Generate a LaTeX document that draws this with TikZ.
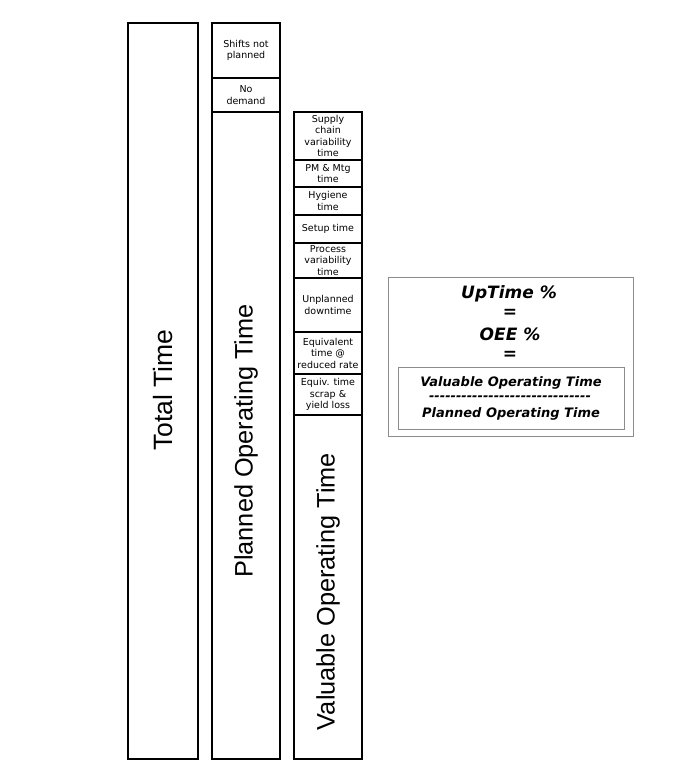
\documentclass[tikz,border=0pt]{standalone}
\usepackage{fontspec}
\setmainfont{DejaVu Sans}
\newfontfamily\arialf{Liberation Sans}
\newcommand{\hy}{\char"2D\relax}
\begin{document}
\begin{tikzpicture}[x=1pt,y=-1pt,
  bx/.style={draw=black, line width=1.2pt, inner sep=0pt, outer sep=0pt},
  gbx/.style={draw=black!45, line width=1pt, inner sep=0pt, outer sep=0pt},
  small/.style={font=\fontsize{9.5}{11.5}\selectfont, align=center, inner sep=0pt},
  big/.style={font=\arialf\fontsize{25.3}{30}\selectfont, rotate=90, inner sep=0pt},
  eqbig/.style={font=\fontsize{17}{20}\selectfont\bfseries\itshape, inner sep=0pt},
  eqsm/.style={font=\fontsize{13}{15}\selectfont\bfseries\itshape, inner sep=0pt}]
\useasboundingbox (0,0) rectangle (693,780);
\fill[white] (0,0) rectangle (693,780);

% Column 1
\node[bx, minimum width=70pt, minimum height=736pt] (total) at (163,391) {};
\node[big, font=\arialf\fontsize{26.5}{30}\selectfont] (totalt) at (163,390) {Total Time};

% Column 2
\node[bx, minimum width=68pt, minimum height=55pt] (shifts) at (246,50.5) {};
\node[small] at (shifts.center) {Shifts not\\planned};
\node[bx, minimum width=68pt, minimum height=34pt] (nodem) at (246,95) {};
\node[small] at (nodem.center) {No\\demand};
\node[bx, minimum width=68pt, minimum height=647pt] (planned) at (246,435.5) {};
\node[big] (plannedt) at (246,441) {Planned Operating Time};

% Column 3
\node[bx, minimum width=68pt, minimum height=48pt] (supply) at (328,136) {};
\node[small] at (supply.center) {Supply\\chain\\variability\\time};
\node[bx, minimum width=68pt, minimum height=27pt] (pm) at (328,173.5) {};
\node[small] at (pm.center) {PM \& Mtg\\time};
\node[bx, minimum width=68pt, minimum height=28pt] (hyg) at (328,201) {};
\node[small] at (hyg.center) {Hygiene\\time};
\node[bx, minimum width=68pt, minimum height=28pt] (setup) at (328,229) {};
\node[small] at (setup.center) {Setup time};
\node[bx, minimum width=68pt, minimum height=35pt] (proc) at (328,260.5) {};
\node[small] at (proc.center) {Process\\variability\\time};
\node[bx, minimum width=68pt, minimum height=54pt] (unpl) at (328,305) {};
\node[small] at (unpl.center) {Unplanned\\downtime};
\node[bx, minimum width=68pt, minimum height=42pt] (equiv) at (328,353) {};
\node[small] at (equiv.center) {Equivalent\\time @\\reduced rate};
\node[bx, minimum width=68pt, minimum height=41pt] (scrap) at (328,394.5) {};
\node[small] at (scrap.center) {Equiv. time\\scrap \&\\yield loss};
\node[bx, minimum width=68pt, minimum height=344pt] (valuable) at (328,587) {};
\node[big] (valuablet) at (328,591.5) {Valuable Operating Time};

% Formula box
\node[gbx, minimum width=245pt, minimum height=159pt] (formula) at (510.5,356.5) {};
\node[eqbig] (uptime) at (509,294) {UpTime \%};
\node[eqbig] (eq1) at (510,313) {=};
\node[eqbig] (oee) at (510,334) {OEE \%};
\node[eqbig] (eq2) at (510,355) {=};
\node[gbx, minimum width=226pt, minimum height=62pt] (ratio) at (511,398) {};
\node[eqsm] (num) at (511,383) {Valuable Operating Time};
\node[eqsm] (dash) at (510,398) {\hy\hy\hy\hy\hy\hy\hy\hy\hy\hy\hy\hy\hy\hy\hy\hy\hy\hy\hy\hy\hy\hy\hy\hy\hy\hy\hy\hy\hy\hy};
\node[eqsm] (den) at (511,414) {Planned Operating Time};
\end{tikzpicture}
\end{document}
